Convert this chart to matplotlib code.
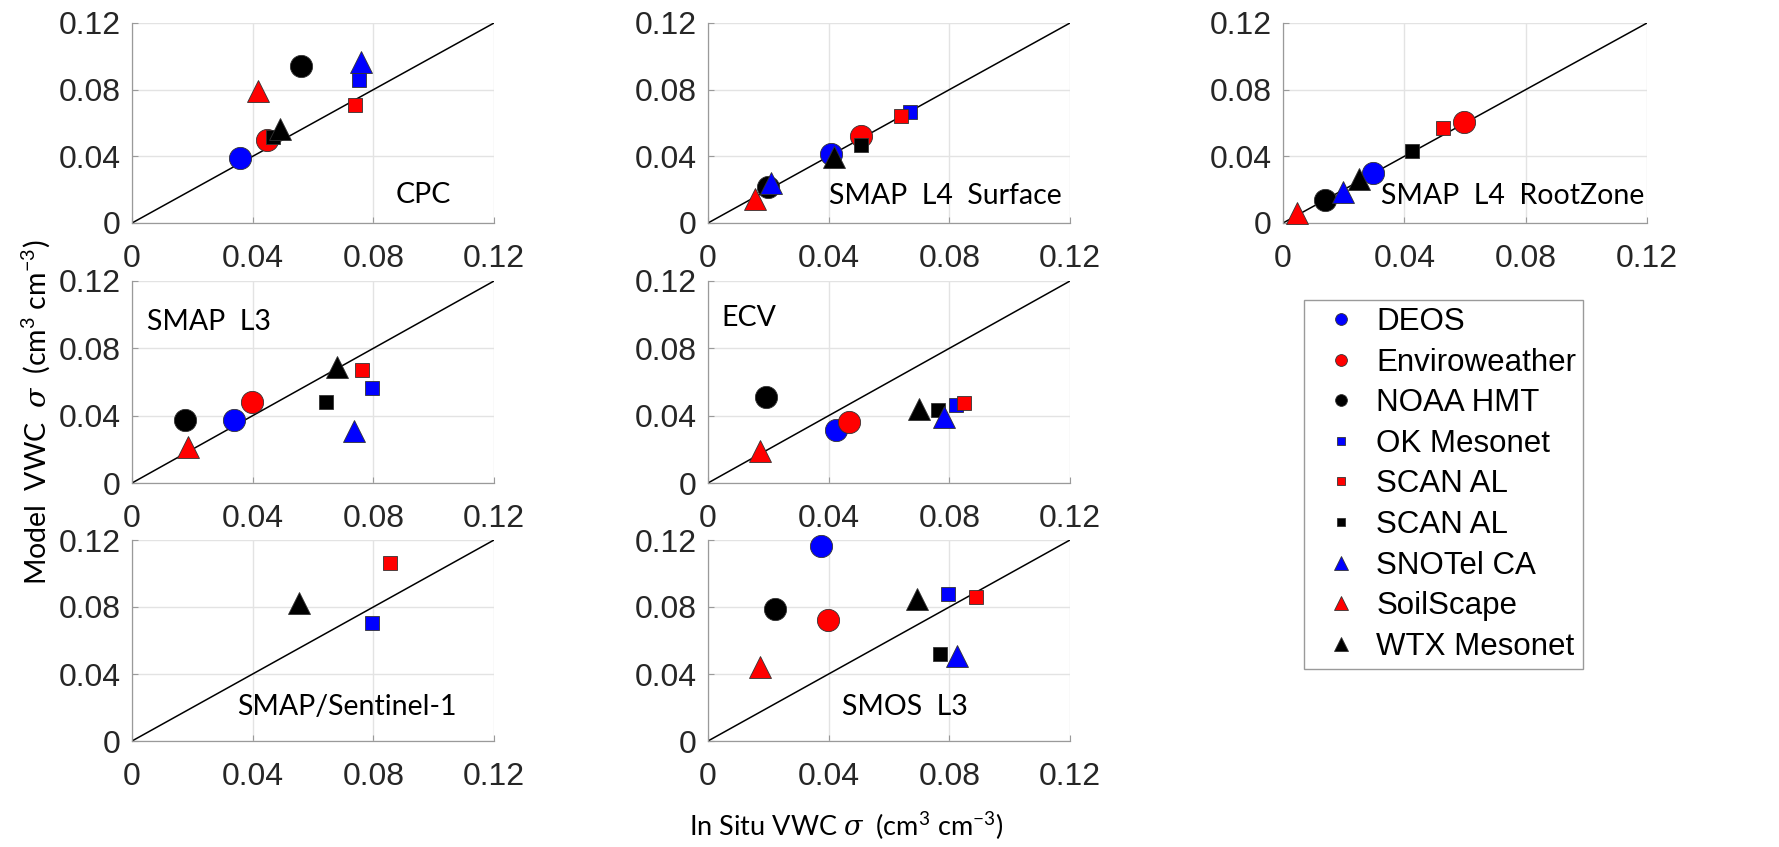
import matplotlib
matplotlib.use("Agg")
import matplotlib.pyplot as plt
from matplotlib.lines import Line2D

plt.rcParams['font.family'] = ['Liberation Sans', 'DejaVu Sans']
plt.rcParams['mathtext.fontset'] = 'custom'
plt.rcParams['mathtext.rm'] = 'Lato'
plt.rcParams['mathtext.it'] = 'DejaVu Serif:italic'

# ---------------- data ----------------
networks = ['DEOS', 'Enviroweather', 'NOAA HMT', 'OK Mesonet', 'SCAN AL',
            'SCAN AL', 'SNOTel CA', 'SoilScape', 'WTX Mesonet']
net_colors = ['#0000ff', '#ff0000', '#000000', '#0000ff', '#ff0000',
              '#000000', '#0000ff', '#ff0000', '#000000']
net_markers = ['o', 'o', 'o', 's', 's', 's', '^', '^', '^']

panels = ['CPC', 'SMAP  L4  Surface', 'SMAP  L4  RootZone',
          'SMAP  L3', 'ECV', 'SMAP/Sentinel-1', 'SMOS  L3']

# in situ sigma (x) and model sigma (y) per network; None = not shown
cpc_x = [0.0358, 0.0447, 0.0560, 0.0752, 0.0739, 0.0469, 0.0758, 0.0419, 0.0489]
cpc_y = [0.0389, 0.0498, 0.0943, 0.0857, 0.0708, 0.0518, 0.0963, 0.0791, 0.0562]

l4s_x = [0.0407, 0.0508, 0.0198, 0.0668, 0.0640, 0.0508, 0.0210, 0.0157, 0.0418]
l4s_y = [0.0414, 0.0523, 0.0214, 0.0668, 0.0643, 0.0470, 0.0237, 0.0145, 0.0394]

l4r_x = [0.0297, 0.0598, 0.0138, None, 0.0528, 0.0426, 0.0198, 0.0046, 0.0251]
l4r_y = [0.0297, 0.0608, 0.0136, None, 0.0568, 0.0431, 0.0185, 0.0060, 0.0261]

l3_x = [0.0338, 0.0398, 0.0175, 0.0796, 0.0762, 0.0644, 0.0736, 0.0186, 0.0681]
l3_y = [0.0373, 0.0482, 0.0373, 0.0565, 0.0670, 0.0482, 0.0306, 0.0211, 0.0690]

ecv_x = [0.0425, 0.0466, 0.0192, 0.0822, 0.0849, 0.0762, 0.0783, 0.0173, 0.0698]
ecv_y = [0.0313, 0.0363, 0.0512, 0.0462, 0.0476, 0.0436, 0.0393, 0.0192, 0.0440]

s1_x = [None, None, None, 0.0797, 0.0855, None, None, None, 0.0555]
s1_y = [None, None, None, 0.0702, 0.1065, None, None, None, 0.0825]

smos_x = [0.0374, 0.0397, 0.0221, 0.0795, 0.0889, 0.0769, 0.0826, 0.0173, 0.0692]
smos_y = [0.1163, 0.0722, 0.0787, 0.0875, 0.0861, 0.0518, 0.0510, 0.0439, 0.0850]

panel_x = [cpc_x, l4s_x, l4r_x, l3_x, ecv_x, s1_x, smos_x]
panel_y = [cpc_y, l4s_y, l4r_y, l3_y, ecv_y, s1_y, smos_y]

# label positions (data coords)
label_x = [0.0965, 0.0786, 0.0758, 0.0255, 0.0136, 0.0713, 0.0653]
label_y = [0.0168, 0.0160, 0.0160, 0.0956, 0.0980, 0.0203, 0.0203]

ticks = [0, 0.04, 0.08, 0.12]
tick_labels = ['0', '0.04', '0.08', '0.12']

# ---------------- figure ----------------
W, H = 1779, 847
fig = plt.figure(figsize=(W / 100, H / 100), dpi=100)

col_left = [132, 708, 1283]
col_w = [362, 362, 364]
row_top = [23, 281, 540]
row_h = [200, 202, 201]
grid_pos = [(0, 0), (0, 1), (0, 2), (1, 0), (1, 1), (2, 0), (2, 1)]

marker_size = {'o': 16, 's': 10.5, '^': 16.5}

for i, name in enumerate(panels):
    r, c = grid_pos[i]
    ax = fig.add_axes([col_left[c] / W, 1 - (row_top[r] + row_h[r]) / H,
                       col_w[c] / W, row_h[r] / H])
    ax.set_xlim(0, 0.12)
    ax.set_ylim(0, 0.12)
    ax.set_xticks(ticks)
    ax.set_yticks(ticks)
    ax.set_xticklabels(tick_labels)
    ax.set_yticklabels(tick_labels)
    ax.grid(True, color='#e3e3e3', lw=1.0, zorder=0)
    ax.set_axisbelow(True)
    for sp in ax.spines.values():
        sp.set_color('#9a9a9a')
        sp.set_linewidth(0.9)
    ax.spines['top'].set_visible(False)
    ax.spines['right'].set_visible(False)
    ax.tick_params(axis='both', direction='in', length=4, width=0.8,
                   color='#9a9a9a', labelsize=23, labelcolor='#262626')
    ax.tick_params(axis='x', pad=15)
    ax.tick_params(axis='y', pad=8)
    ax.plot([0, 0.12], [0, 0.12], color='black', lw=1.1, zorder=2)
    xs, ys = panel_x[i], panel_y[i]
    for k in range(len(networks)):
        if xs[k] is None:
            continue
        m = net_markers[k]
        ax.plot(xs[k], ys[k], linestyle='none', marker=m,
                markersize=marker_size[m], markerfacecolor=net_colors[k],
                markeredgecolor='#333333', markeredgewidth=0.6, zorder=3,
                clip_on=False)
    ax.text(label_x[i], label_y[i], name, ha='center', va='center',
            fontsize=20.5, family=['Lato', 'DejaVu Sans'], zorder=4)

# axis labels
fig.text(36 / W, 1 - 412 / H, r'Model  VWC  $\sigma$  (cm$^3$ cm$^{-3}$)',
         rotation=90, ha='center', va='center', fontsize=20.5,
         family=['Lato', 'DejaVu Sans'])
fig.text(846 / W, 1 - 826 / H, r'In Situ VWC $\sigma$  (cm$^3$ cm$^{-3}$)',
         ha='center', va='center', fontsize=19.5,
         family=['Lato', 'DejaVu Sans'])

# legend
leg_size = {'o': 8.5, 's': 6, '^': 10}
handles = [Line2D([], [], linestyle='none', marker=net_markers[k],
                  markersize=leg_size[net_markers[k]],
                  markerfacecolor=net_colors[k], markeredgecolor='#333333',
                  markeredgewidth=0.6) for k in range(len(networks))]
leg = fig.legend(handles, networks, loc='upper left',
                 bbox_to_anchor=(1304 / W, 1 - 300 / H),
                 fontsize=22.5, frameon=True, fancybox=False,
                 edgecolor='#9a9a9a', framealpha=1, borderpad=0.22,
                 handlelength=1.9, handletextpad=0.2, labelspacing=0.34,
                 borderaxespad=0)
leg.get_frame().set_linewidth(1.0)

fig.savefig('out.png', dpi=100)
